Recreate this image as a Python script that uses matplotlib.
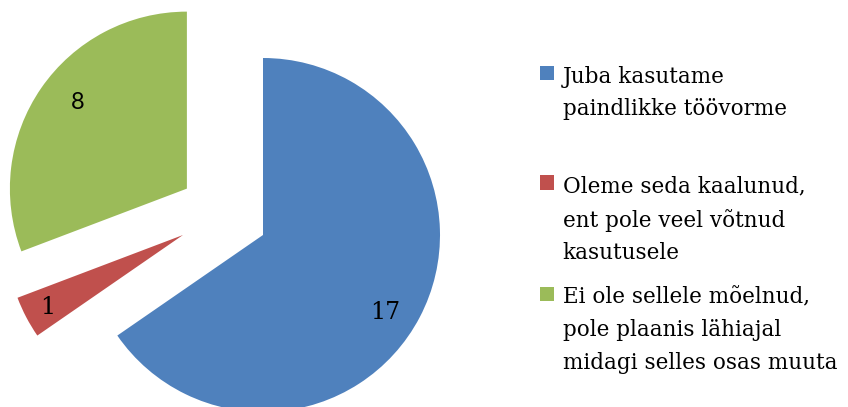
import matplotlib.pyplot as plt

etiketid = ["Juba kasutame\npaindlikke töövorme\n",
            "Oleme seda kaalunud,\nent pole veel võtnud\nkasutusele",
            "Ei ole sellele mõelnud,\npole plaanis lähiajal\nmidagi selles osas muuta"]
vastused = [17, 1, 8]
varvid = ["#4F81BD", "#C0504D", "#9BBB59"]
valjatoome = [0, 0.45, 0.5]

plt.rcParams['font.family'] = ['DejaVu Serif']

fig = plt.figure(figsize=(8.48, 4.07), dpi=100)
ax = fig.add_axes([0, 0, 1, 1])

wedges, texts, autotexts = ax.pie(
    vastused, colors=varvid, explode=valjatoome, startangle=90,
    counterclock=False, radius=1, pctdistance=0.8,
    autopct=lambda p: f"{round(p * sum(vastused) / 100):d}",
    textprops={'fontsize': 17})

# originaalis on väljatoodud sektorite nihe veidi teine
keskpunktid = {1: (-0.452, 0.0), 2: (-0.43, 0.262)}
sildi_nihe = {1: (-0.763, -0.407), 2: (-0.616, 0.486)}
for i, c in keskpunktid.items():
    wedges[i].set_center(c)
    dx, dy = sildi_nihe[i]
    autotexts[i].set_position((c[0] + dx, c[1] + dy))
autotexts[0].set_position((0.69, -0.44))
autotexts[2].set_fontfamily('Lato')

# teljed nii, et 1 ühik = 177 px ja keskpunkt (263, 235)
ax.set_xlim(-263 / 177, 585 / 177)
ax.set_ylim(-172 / 177, 235 / 177)
ax.set_aspect('auto')

leg = fig.legend(wedges, etiketid, loc='upper left',
                 bbox_to_anchor=(529 / 848, 1 - 55 / 407), frameon=False,
                 fontsize=15.5, handlelength=0.66, handleheight=0.66,
                 handletextpad=0.4, labelspacing=1.03, borderpad=0)
for t in leg.get_texts():
    t.set_linespacing(1.63)
# marker rea ülaossa
for kast in leg._legend_handle_box.get_children()[0].get_children():
    kast.align = 'top'

fig.savefig('out.png', dpi=100)
